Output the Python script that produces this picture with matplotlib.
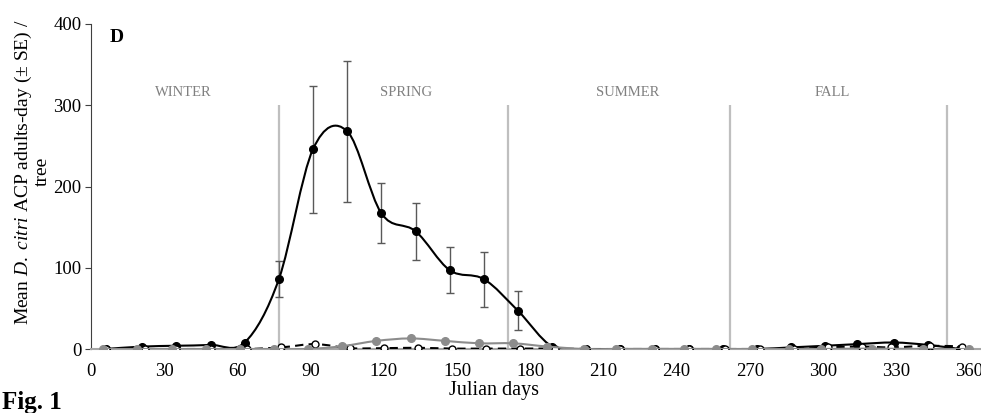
import numpy as np
import matplotlib
matplotlib.use("Agg")
import matplotlib.pyplot as plt
from matplotlib.path import Path
from matplotlib.patches import PathPatch

plt.rcParams['font.family'] = ['Liberation Serif', 'DejaVu Serif']
plt.rcParams['mathtext.fontset'] = 'custom'
plt.rcParams['mathtext.rm'] = 'Liberation Serif'
plt.rcParams['mathtext.it'] = 'Liberation Serif:italic'

# Julian day of each sampling and mean adults-day per tree
days_black = [6, 21, 35, 49, 63, 77, 91, 105, 119, 133, 147, 161, 175,
              189, 203, 217, 231, 245, 259, 273, 287, 301, 314, 329, 343, 356]
mean_black = [0, 3, 4, 5, 8, 86, 246, 268, 167, 145, 97, 86, 47,
              3, 0, 0, 0, 0, 0, 0, 2, 4, 6, 8, 5, 0]
se_black = [0, 0, 0, 0, 0, 22, 78, 87, 37, 35, 28, 34, 24,
            0, 0, 0, 0, 0, 0, 0, 0, 0, 0, 0, 0, 0]

days_open = [6, 22, 35, 49, 64, 78, 92, 106, 120, 134, 148, 162, 176,
             190, 203, 217, 231, 245, 260, 274, 288, 302, 316, 328, 344, 357]
mean_open = [0, 0, 0, 0, 0, 2, 6, 1, 1, 1.5, 0.5, 0.5, 0.5,
             0.5, 0, 0, 0, 0, 0, 0, 0, 2, 3, 2, 4, 3]

days_grey = [5, 19, 33, 47, 61, 75, 89, 103, 117, 131, 145, 159, 173,
             187, 202, 215, 230, 243, 256, 271, 286, 299, 320, 341, 360]
mean_grey = [0, 0, 0, 0, 0, 0, 0, 3.5, 10, 13, 10, 7, 7,
             3, 0, 0, 0, 0, 0, 0, 0, 0, 0.5, 0, 0]

season_bounds = [77, 171, 262, 351]
season_names = ['WINTER', 'SPRING', 'SUMMER', 'FALL']
season_label_x = [38, 129, 220, 304]


# Excel-style smoothed line: cubic bezier through the points
def smooth_path(x, y):
    pts = np.column_stack([x, y]).astype(float)
    n = len(pts)
    verts = [pts[0]]
    codes = [Path.MOVETO]
    for i in range(n - 1):
        p0 = pts[i - 1] if i > 0 else pts[i]
        p1 = pts[i]
        p2 = pts[i + 1]
        p3 = pts[i + 2] if i + 2 < n else pts[i + 1]
        verts += [p1 + (p2 - p0) / 6, p2 - (p3 - p1) / 6, p2]
        codes += [Path.CURVE4] * 3
    return Path(verts, codes)


fig = plt.figure(figsize=(9.81, 4.13), dpi=100)
ax = fig.add_axes([91 / 981, 64 / 413, 890.6 / 981, 325 / 413])
ax.set_xlim(0, 365)
ax.set_ylim(0, 400)

# season boundaries
ax.vlines(season_bounds, 0, 300, color='#bfbfbf', lw=1.6, zorder=1)
for name, xs in zip(season_names, season_label_x):
    ax.text(xs, 316, name, color='#808080', fontsize=10.5,
            ha='center', va='center')

# black series with SE
ax.add_patch(PathPatch(smooth_path(days_black, mean_black), fill=False,
                       edgecolor='black', lw=1.5, zorder=3))
ax.errorbar(days_black, mean_black, yerr=se_black, fmt='none',
            ecolor='#595959', elinewidth=1, capsize=3, capthick=1, zorder=2)
ax.plot(days_black, mean_black, 'o', color='black', ms=5.5, zorder=4)

# open circles, dashed
ax.add_patch(PathPatch(smooth_path(days_open, mean_open), fill=False,
                       edgecolor='black', lw=1.5, ls=(0, (4, 2.5)), zorder=3))
ax.plot(days_open, mean_open, 'o', mfc='white', mec='black', mew=1,
        ms=5, zorder=4)

# grey series
ax.add_patch(PathPatch(smooth_path(days_grey, mean_grey), fill=False,
                       edgecolor='#8c8c8c', lw=1.5, zorder=5))
ax.plot(days_grey, mean_grey, 'o', color='#8c8c8c', ms=5.5, zorder=6)

ax.spines['top'].set_visible(False)
ax.spines['right'].set_visible(False)
ax.spines['left'].set_color('#404040')
ax.spines['bottom'].set_color('#a6a6a6')
ax.spines['bottom'].set_linewidth(1.5)

ax.set_xticks(range(0, 361, 30))
ax.set_yticks(range(0, 401, 100))
ax.tick_params(axis='x', length=0, labelsize=13.5, pad=10)
ax.tick_params(axis='y', length=4, direction='out', labelsize=13.5,
               color='#404040', pad=3)

ax.set_xlabel('Julian days', fontsize=14.5)
ax.xaxis.set_label_coords((494 - 91) / 890.6, -0.1)
ax.set_ylabel('Mean $\\mathit{D.\\ citri}$ ACP adults-day (\u00b1 SE) /\ntree',
              fontsize=14, linespacing=1.0)
ax.yaxis.set_label_coords(-0.045, 0.545)

ax.text(10.5, 383, 'D', fontsize=14, fontweight='bold', ha='center', va='center')
fig.text(0.002, 1 - 391 / 413, 'Fig. 1', fontsize=18, fontweight='bold',
         ha='left', va='top')

fig.savefig('out.png', dpi=100)
